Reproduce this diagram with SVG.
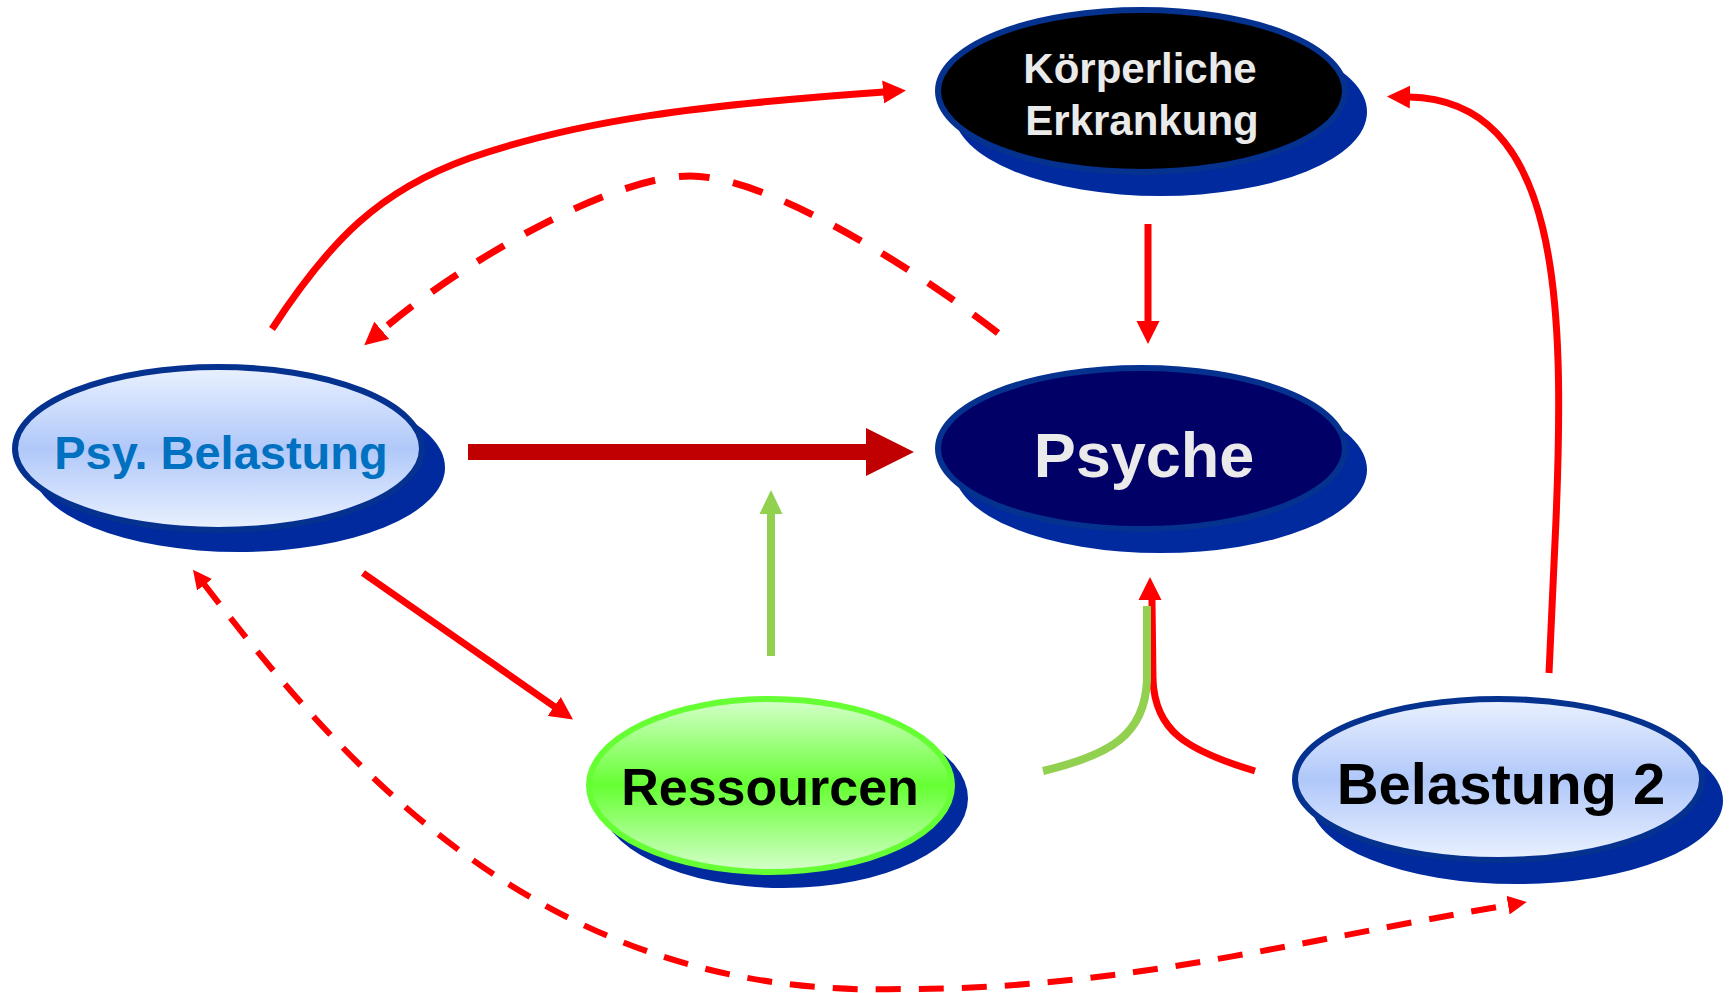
<svg xmlns="http://www.w3.org/2000/svg" width="1729" height="993" viewBox="0 0 1729 993">
<style>
.shadow{fill:#002a9e}
.frame{stroke:#05318f;stroke-width:6}
.lbl{font-family:"Liberation Sans",Arial,sans-serif;font-weight:bold;text-anchor:middle}
.red{fill:none;stroke:#ff0000;stroke-width:7}
.dash1{fill:none;stroke:#ff0000;stroke-width:7;stroke-dasharray:31 24}
.dash2{fill:none;stroke:#ff0000;stroke-width:6;stroke-dasharray:25 18}
.green{fill:none;stroke:#92d050;stroke-width:8}
</style>
<defs>
<linearGradient id="gBlue" x1="0" y1="0" x2="0" y2="1">
<stop offset="0" stop-color="#eaf1ff"/>
<stop offset="0.5" stop-color="#b0c8f9"/>
<stop offset="1" stop-color="#eaf1ff"/>
</linearGradient>
<linearGradient id="gGreen" x1="0" y1="0" x2="0" y2="1">
<stop offset="0" stop-color="#d6ffcc"/>
<stop offset="0.5" stop-color="#66ff33"/>
<stop offset="1" stop-color="#d6ffcc"/>
</linearGradient>
<marker id="mRed" markerUnits="userSpaceOnUse" markerWidth="23" markerHeight="24" refX="1" refY="12" orient="auto">
<path d="M0,0.5 L23,12 L0,23.5 z" fill="#ff0000"/>
</marker>
<marker id="mBig" markerUnits="userSpaceOnUse" markerWidth="48" markerHeight="48" refX="1" refY="24" orient="auto">
<path d="M0,0 L48,24 L0,48 z" fill="#c00000"/>
</marker>
<marker id="mGreen" markerUnits="userSpaceOnUse" markerWidth="24" markerHeight="24" refX="1" refY="12" orient="auto">
<path d="M0,0.5 L24,12 L0,23.5 z" fill="#92d050"/>
</marker>
<marker id="mDash" markerUnits="userSpaceOnUse" markerWidth="20" markerHeight="20" refX="1" refY="10" orient="auto-start-reverse">
<path d="M0,0.5 L19,10 L0,19.5 z" fill="#ff0000"/>
</marker>
</defs>
<rect width="1729" height="993" fill="#ffffff"/>

<g id="node-koerperliche">
<ellipse class="shadow" cx="1160.5" cy="112" rx="206.5" ry="84"/>
<ellipse class="frame" cx="1141.5" cy="91" rx="203.5" ry="81" fill="#000000"/>
<text class="lbl" x="1140" y="83" font-size="42" fill="#eaeaea">Körperliche</text>
<text class="lbl" x="1142" y="135" font-size="42" fill="#eaeaea">Erkrankung</text>
</g>

<g id="node-psyche">
<ellipse class="shadow" cx="1160.5" cy="469.5" rx="206.5" ry="83.5"/>
<ellipse class="frame" cx="1141.5" cy="448.5" rx="203.5" ry="80.5" fill="#000066"/>
<text class="lbl" x="1144" y="477" font-size="63" fill="#eaeaea">Psyche</text>
</g>

<g id="node-psy-belastung">
<ellipse class="shadow" cx="238.5" cy="467.5" rx="206.5" ry="84.5"/>
<ellipse class="frame" cx="218.5" cy="448.5" rx="203.5" ry="81.5" fill="url(#gBlue)"/>
<text class="lbl" x="221" y="469" font-size="47" fill="#0070c0">Psy. Belastung</text>
</g>

<g id="node-ressourcen">
<ellipse class="shadow" cx="783.5" cy="798.5" rx="184.5" ry="89.5"/>
<ellipse cx="770.5" cy="785.5" rx="181.5" ry="86.5" fill="url(#gGreen)" stroke="#66ff33" stroke-width="6"/>
<text class="lbl" x="770" y="805" font-size="52" fill="#000000">Ressourcen</text>
</g>

<g id="node-belastung2">
<ellipse class="shadow" cx="1516.5" cy="800.5" rx="206.5" ry="83.5"/>
<ellipse class="frame" cx="1498.5" cy="779.5" rx="203.5" ry="80.5" fill="url(#gBlue)"/>
<text class="lbl" x="1501" y="804" font-size="58" fill="#000000">Belastung 2</text>
</g>

<g id="connectors">
<path class="red" d="M272,329 C 330,240 380,190 470,158 C 580,120 700,105 884,92" marker-end="url(#mRed)"/>
<path class="dash1" d="M998,333 C 918,271 770,176 690,176 C 610,176 461,263 381,331" marker-end="url(#mRed)"/>
<path class="red" d="M1148,224 L1148,322" marker-end="url(#mRed)"/>
<path d="M468,452 L867,452" fill="none" stroke="#c00000" stroke-width="16" marker-end="url(#mBig)"/>
<path class="green" d="M771,656 L771,513" marker-end="url(#mGreen)"/>
<path class="red" d="M363,573 L555,707" marker-end="url(#mRed)"/>
<path class="dash2" d="M204,584 C 340,760 540,1000 900,989 C 1120,990 1300,940 1509,905" marker-start="url(#mDash)" marker-end="url(#mDash)"/>
<path class="red" d="M1549,673 L1556,520 C 1565,300 1560,100 1409,97" marker-end="url(#mRed)"/>
<path class="red" d="M1255,771 C 1185,750 1155,730 1153,680 L1152,600"/>
<path class="green" d="M1043,771 C 1110,755 1145,735 1147,680 L1147,606"/>
<path d="M1138.5,600 L1150,577 L1161.5,600 z" fill="#ff0000"/>
</g>
</svg>
